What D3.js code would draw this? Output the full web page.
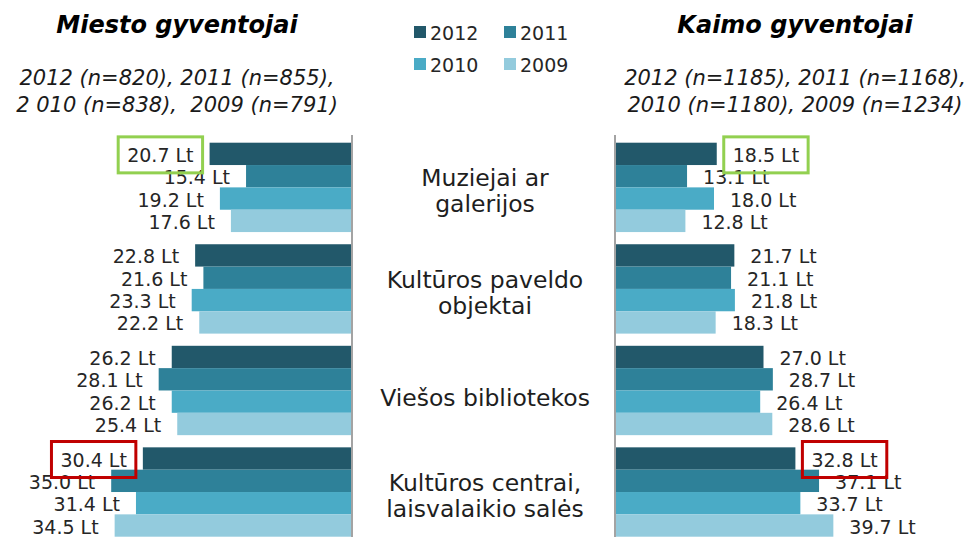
<!DOCTYPE html>
<html>
<head>
<meta charset="utf-8">
<script src="https://cdn.jsdelivr.net/npm/d3@7"></script>
<style>
  body { margin: 0; background: white; }
  text { font-family: "DejaVu Sans", Verdana, sans-serif; }
</style>
</head>
<body>
<div id="chart"></div>
<script>

// categories in the middle column, split into the lines shown
const categories = ["Muziejai ar galerijos", "Kultūros paveldo objektai", "Viešos bibliotekos", "Kultūros centrai, laisvalaikio salės"];
const categoryLines = [["Muziejai ar", "galerijos"], ["Kultūros paveldo", "objektai"], ["Viešos bibliotekos"], ["Kultūros centrai,", "laisvalaikio salės"]];
const years = ["2012", "2011", "2010", "2009"];

// average spending (Lt) per year, one value per category
const cityValues = {
	"2012": [20.7, 22.8, 26.2, 30.4],
	"2011": [15.4, 21.6, 28.1, 35.0],
	"2010": [19.2, 23.3, 26.2, 31.4],
	"2009": [17.6, 22.2, 25.4, 34.5]
};
const ruralValues = {
	"2012": [18.5, 21.7, 27.0, 32.8],
	"2011": [13.1, 21.1, 28.7, 37.1],
	"2010": [18.0, 21.8, 26.4, 33.7],
	"2009": [12.8, 18.3, 28.6, 39.7]
};

const cityTitle = "Miesto gyventojai";
const citySubtitle = ["2012 (n=820), 2011 (n=855),", "2 010 (n=838),  2009 (n=791)"];
const ruralTitle = "Kaimo gyventojai";
const ruralSubtitle = ["2012 (n=1185), 2011 (n=1168),", "2010 (n=1180), 2009 (n=1234)"];

// labels that get a frame: [panel, category index, year, kind]
const highlights = [["city", 0, "2012", "up"], ["city", 3, "2012", "down"], ["rural", 0, "2012", "up"], ["rural", 3, "2012", "down"]];

const width = 973, height = 537;
const colors = d3.scaleOrdinal().domain(years).range(["#22586a", "#2e8199", "#4aabc6", "#93cbdd"]);
const frameColors = {up: "#92d050", down: "#c00000"};

const svg = d3.select("#chart")
	.append("svg")
	.attr("width", width)
	.attr("height", height)
	.style("background-color", "white");

// rows: one band per category, one sub band per year
const yScale = d3.scaleBand()
	.domain(d3.range(categories.length))
	.range([142.7, 536.7])
	.paddingInner(0.12);
const yInner = d3.scaleBand()
	.domain(years)
	.range([0, yScale.bandwidth()]);

// left panel grows to the left, right panel to the right
const xCity = d3.scaleLinear().domain([0, 40]).range([352, 352 - 40 * 6.88]);
const xRural = d3.scaleLinear().domain([0, 40]).range([615, 615 + 40 * 5.5]);

const panels = [
	{key: "city", values: cityValues, x: xCity, dir: -1},
	{key: "rural", values: ruralValues, x: xRural, dir: 1}
];

panels.forEach(p => {
	const rows = [];
	years.forEach(yr => p.values[yr].forEach((v, i) => rows.push({year: yr, cat: i, value: v})));

	const g = svg.append("g");

	g.selectAll("rect")
		.data(rows)
		.enter().append("rect")
		.attr("x", d => Math.min(p.x(0), p.x(d.value)))
		.attr("y", d => yScale(d.cat) + yInner(d.year))
		.attr("width", d => Math.abs(p.x(d.value) - p.x(0)))
		.attr("height", yInner.bandwidth())
		.attr("fill", d => colors(d.year));

	// value labels sit just outside the bar end
	g.selectAll("text.value")
		.data(rows)
		.enter().append("text")
		.attr("class", "value")
		.attr("id", d => `lbl-${p.key}-${d.cat}-${d.year}`)
		.attr("x", d => p.x(d.value) + p.dir * 16)
		.attr("y", d => yScale(d.cat) + yInner(d.year) + yInner.bandwidth() / 2 + 8)
		.attr("text-anchor", p.dir < 0 ? "end" : "start")
		.attr("font-size", 19)
		.attr("fill", "#262626")
		.text(d => `${d.value.toFixed(1)} Lt`);

	// the axis line at zero
	g.append("line")
		.attr("x1", p.x(0)).attr("x2", p.x(0))
		.attr("y1", 135).attr("y2", height)
		.attr("stroke", "#a3a3a3")
		.attr("stroke-width", 2);
});

// frames around the marked labels
highlights.forEach(([panel, cat, yr, kind]) => {
	const node = svg.select(`#lbl-${panel}-${cat}-${yr}`);
	const box = node.node().getBBox();
	const base = +node.attr("y");
	svg.append("rect")
		.attr("x", box.x - 9)
		.attr("y", base - 25)
		.attr("width", box.width + 18)
		.attr("height", 36)
		.attr("fill", "none")
		.attr("stroke", frameColors[kind])
		.attr("stroke-width", 3);
});

// category names in the middle
const catGroups = svg.selectAll("g.cat")
	.data(categoryLines)
	.enter().append("g")
	.attr("class", "cat");

catGroups.each(function(lines, i) {
	const mid = yScale(i) + yScale.bandwidth() / 2;
	d3.select(this).selectAll("text")
		.data(lines)
		.enter().append("text")
		.attr("x", 485)
		.attr("y", (d, j) => lines.length === 1 ? mid + 16 : mid - 1 + j * 26)
		.attr("text-anchor", "middle")
		.attr("font-size", 23.5)
		.attr("fill", "#1e1e1e")
		.text(d => d);
});

// titles and sample sizes
const heads = [
	{title: cityTitle, sub: citySubtitle, cx: 177},
	{title: ruralTitle, sub: ruralSubtitle, cx: 795}
];
heads.forEach(h => {
	svg.append("text")
		.attr("x", h.cx)
		.attr("y", 33)
		.attr("text-anchor", "middle")
		.attr("font-size", 24)
		.attr("font-weight", "bold")
		.attr("font-style", "italic")
		.attr("fill", "#000")
		.text(h.title);
	svg.selectAll(null)
		.data(h.sub)
		.enter().append("text")
		.attr("x", h.cx)
		.attr("y", (d, j) => 85 + j * 26.7)
		.attr("text-anchor", "middle")
		.attr("font-size", 21)
		.attr("font-style", "italic")
		.attr("fill", "#1a1a1a")
		.style("white-space", "pre")
		.text(d => d);
});

// legend, two columns
const legend = svg.selectAll("g.legend")
	.data(years)
	.enter().append("g")
	.attr("class", "legend")
	.attr("transform", (d, i) => `translate(${414 + (i % 2) * 90},${26 + Math.floor(i / 2) * 32})`);

legend.append("rect")
	.attr("width", 12)
	.attr("height", 12)
	.attr("fill", d => colors(d));

legend.append("text")
	.attr("x", 16)
	.attr("y", 13.5)
	.attr("font-size", 19)
	.attr("fill", "#262626")
	.text(d => d);

</script>
</body>
</html>
